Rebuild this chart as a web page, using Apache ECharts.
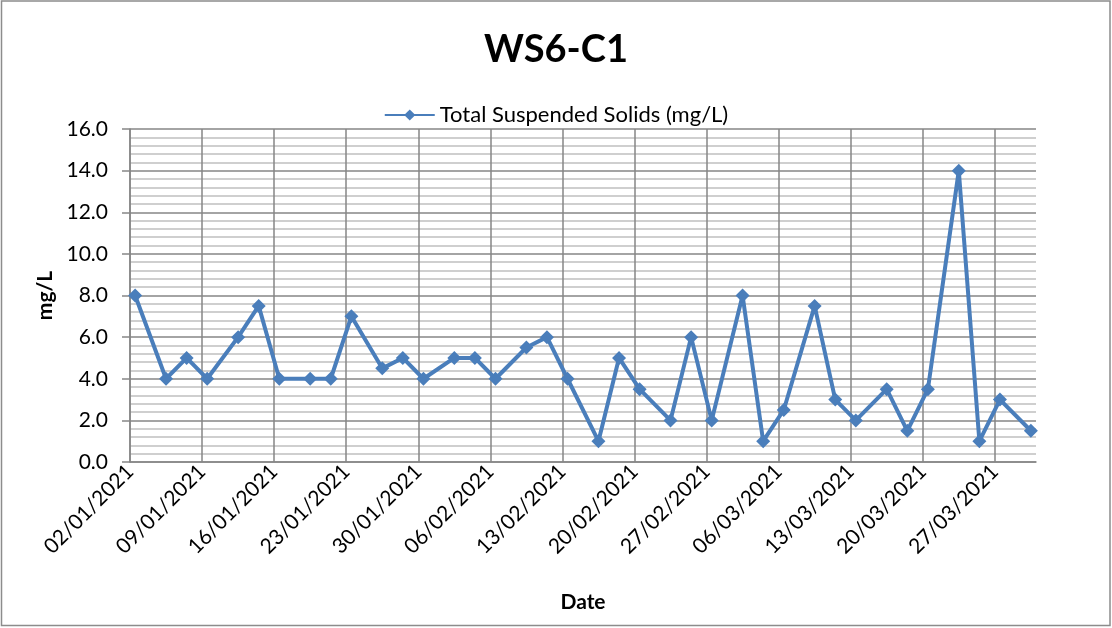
<!DOCTYPE html>
<html>
<head>
<meta charset="utf-8">
<script src="https://cdn.jsdelivr.net/npm/echarts@6/dist/echarts.min.js"></script>
<style>
  html, body { margin: 0; padding: 0; background: #ffffff; }
  #chart { width: 1112px; height: 628px; }
</style>
</head>
<body>
<div id="chart"></div>
<script>
// Sampling dates (dd/mm/yyyy) and measured concentrations
const sampleDates = [
  '02/01/2021', '05/01/2021', '07/01/2021', '09/01/2021', '12/01/2021', '14/01/2021',
  '16/01/2021', '19/01/2021', '21/01/2021', '23/01/2021', '26/01/2021', '28/01/2021',
  '30/01/2021', '02/02/2021', '04/02/2021', '06/02/2021', '09/02/2021', '11/02/2021',
  '13/02/2021', '16/02/2021', '18/02/2021', '20/02/2021', '23/02/2021', '25/02/2021',
  '27/02/2021', '02/03/2021', '04/03/2021', '06/03/2021', '09/03/2021', '11/03/2021',
  '13/03/2021', '16/03/2021', '18/03/2021', '20/03/2021', '23/03/2021', '25/03/2021',
  '27/03/2021', '30/03/2021'
];
const tssValues = [
  8.0, 4.0, 5.0, 4.0, 6.0, 7.5,
  4.0, 4.0, 4.0, 7.0, 4.5, 5.0,
  4.0, 5.0, 5.0, 4.0, 5.5, 6.0,
  4.0, 1.0, 5.0, 3.5, 2.0, 6.0,
  2.0, 8.0, 1.0, 2.5, 7.5, 3.0,
  2.0, 3.5, 1.5, 3.5, 14.0, 1.0,
  3.0, 1.5
];
const axisStartDate = '02/01/2021';
const axisEndDate = '31/03/2021';
const yTicks = [0, 2, 4, 6, 8, 10, 12, 14, 16];

const DAY = 86400000;
function parseDmy(s) {
  const [d, m, y] = s.split('/').map(Number);
  return Date.UTC(y, m - 1, d);
}
function fmtDmy(t) {
  const dt = new Date(t);
  const p = n => String(n).padStart(2, '0');
  return p(dt.getUTCDate()) + '/' + p(dt.getUTCMonth() + 1) + '/' + dt.getUTCFullYear();
}
const t0 = parseDmy(axisStartDate);
const spanDays = (parseDmy(axisEndDate) - t0) / DAY;
// each sample sits in the middle of its day on the day-count axis
const seriesData = sampleDates.map((d, i) => [(parseDmy(d) - t0) / DAY + 0.5, tssValues[i]]);

const FONT = 'Lato, "Open Sans", sans-serif';
const chart = echarts.init(document.getElementById('chart'), null, { renderer: 'canvas' });

chart.setOption({
  backgroundColor: '#ffffff',
  animation: false,
  title: {
    text: 'WS6-C1',
    left: 'center',
    top: 26,
    textStyle: { fontFamily: FONT, fontSize: 38, fontWeight: 'bold', color: '#000000' }
  },
  legend: {
    top: 99,
    left: 'center',
    itemWidth: 50,
    itemHeight: 14,
    itemGap: 10,
    textStyle: { fontFamily: FONT, fontSize: 22, color: '#000000' },
    data: ['Total Suspended Solids (mg/L)']
  },
  graphic: [{
    type: 'rect',
    shape: { x: 1.5, y: 1, width: 1108.5, height: 624.5 },
    style: { fill: 'none', stroke: '#8c8c8c', lineWidth: 1.5 },
    silent: true
  }],
  grid: { left: 130, right: 76, top: 129, bottom: 166, containLabel: false },
  xAxis: {
    type: 'value',
    min: 0,
    max: spanDays,
    interval: 7,
    name: 'Date',
    nameLocation: 'middle',
    nameGap: 130,
    nameTextStyle: { fontFamily: FONT, fontSize: 21, fontWeight: 'bold', color: '#000000' },
    axisLine: { show: true, lineStyle: { color: '#868686', width: 1.5 } },
    axisTick: { show: false },
    axisLabel: {
      rotate: 45,
      margin: 6,
      showMaxLabel: false,
      fontFamily: FONT,
      fontSize: 21,
      color: '#000000',
      formatter: v => (v % 7 === 0 ? fmtDmy(t0 + v * DAY) : '')
    },
    splitLine: { show: true, showMaxLine: false, lineStyle: { color: '#868686', width: 1.5 } }
  },
  yAxis: {
    type: 'value',
    min: yTicks[0],
    max: yTicks[yTicks.length - 1],
    interval: yTicks[1] - yTicks[0],
    name: 'mg/L',
    nameLocation: 'middle',
    nameGap: 74,
    nameRotate: 90,
    nameTextStyle: { fontFamily: FONT, fontSize: 21, fontWeight: 'bold', color: '#000000' },
    axisLine: { show: true, lineStyle: { color: '#868686', width: 1.5 } },
    axisTick: { show: true, inside: false, length: 8, lineStyle: { color: '#868686', width: 1.5 } },
    axisLabel: {
      margin: 22,
      fontFamily: FONT,
      fontSize: 21,
      color: '#000000',
      formatter: v => v.toFixed(1)
    },
    minorTick: { show: false, splitNumber: 5 },
    splitLine: { show: true, lineStyle: { color: '#868686', width: 1.5 } },
    minorSplitLine: { show: true, lineStyle: { color: '#c0c0c0', width: 1.5 } }
  },
  series: [{
    name: 'Total Suspended Solids (mg/L)',
    type: 'line',
    data: seriesData,
    symbol: 'diamond',
    symbolSize: 14,
    showAllSymbol: true,
    lineStyle: { color: '#4a7ebb', width: 4 },
    itemStyle: { color: '#4a7ebb' }
  }]
});
</script>
</body>
</html>
